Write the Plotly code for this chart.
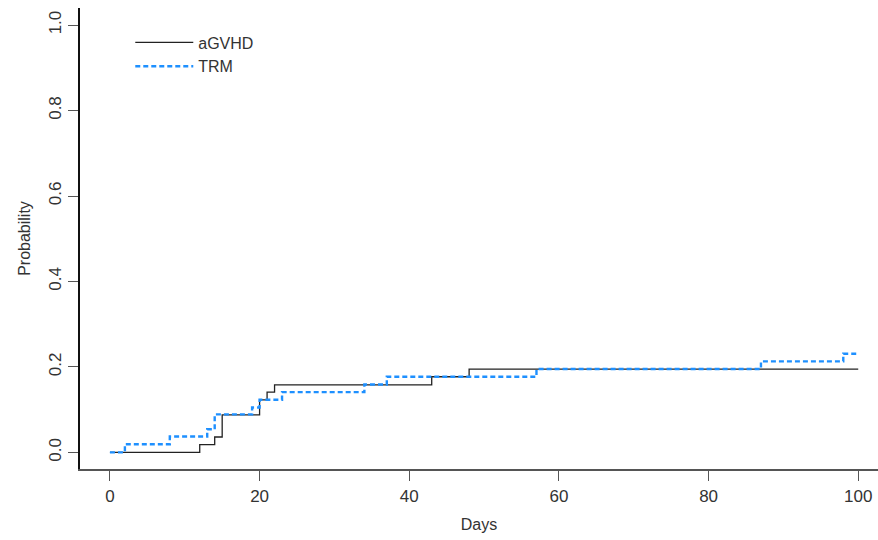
import plotly.graph_objects as go

# aGVHD cumulative incidence (step function)
agvhd_days = [0, 12, 14, 15, 20, 21, 22, 43, 48, 100]
agvhd_prob = [0.0, 0.018, 0.036, 0.088, 0.123, 0.141, 0.158, 0.177, 0.195, 0.195]

# TRM cumulative incidence (step function)
trm_days = [0, 2, 8, 13, 14, 19, 20, 23, 34, 37, 57, 87, 98, 100]
trm_prob = [0.0, 0.019, 0.037, 0.054, 0.089, 0.105, 0.123, 0.141, 0.159, 0.177, 0.195, 0.213, 0.231, 0.231]

x_ticks = [0, 20, 40, 60, 80, 100]
y_ticks = [0.0, 0.2, 0.4, 0.6, 0.8, 1.0]
y_ticklabels = ["0.0", "0.2", "0.4", "0.6", "0.8", "1.0"]

FONT = "Liberation Sans, Arial, sans-serif"
TXT = "#333333"

fig = go.Figure()
fig.add_trace(go.Scatter(
    x=agvhd_days, y=agvhd_prob, mode="lines", name="aGVHD",
    line=dict(shape="hv", color="#222222", width=1.3),
))
fig.add_trace(go.Scatter(
    x=trm_days, y=trm_prob, mode="lines", name="TRM",
    line=dict(shape="hv", color="#1E90FF", width=2.4, dash="5px,3px"),
))

fig.update_layout(
    width=878, height=540,
    margin=dict(l=80, r=0, t=8, b=71),
    paper_bgcolor="white", plot_bgcolor="white",
    font=dict(family=FONT, size=17, color=TXT),
    showlegend=True,
    legend=dict(
        x=0.063, y=0.962, xanchor="left", yanchor="top",
        bgcolor="rgba(0,0,0,0)", font=dict(size=16, color=TXT),
        itemwidth=58, tracegroupgap=0,
    ),
    xaxis=dict(
        range=[-4, 102.64], showgrid=False, zeroline=False,
        showline=True, linecolor="#555555", linewidth=1.5,
        ticks="outside", ticklen=10, tickwidth=1.3, tickcolor="#555555",
        tickvals=x_ticks, ticklabelstandoff=1,
        tickfont=dict(size=17, color=TXT),
        title=dict(text="Days", font=dict(size=16, color=TXT), standoff=14),
    ),
    yaxis=dict(
        range=[-0.0389, 1.040], showgrid=False, zeroline=False,
        showline=True, linecolor="#111111", linewidth=2,
        ticks="outside", ticklen=10, tickwidth=1.3, tickcolor="#555555",
        tickvals=y_ticks, ticktext=y_ticklabels, tickangle=-90,
        ticklabelstandoff=0,
        tickfont=dict(size=17, color=TXT),
        title=dict(text="Probability", font=dict(size=16, color=TXT), standoff=12),
    ),
)

fig.write_html("out.html")
